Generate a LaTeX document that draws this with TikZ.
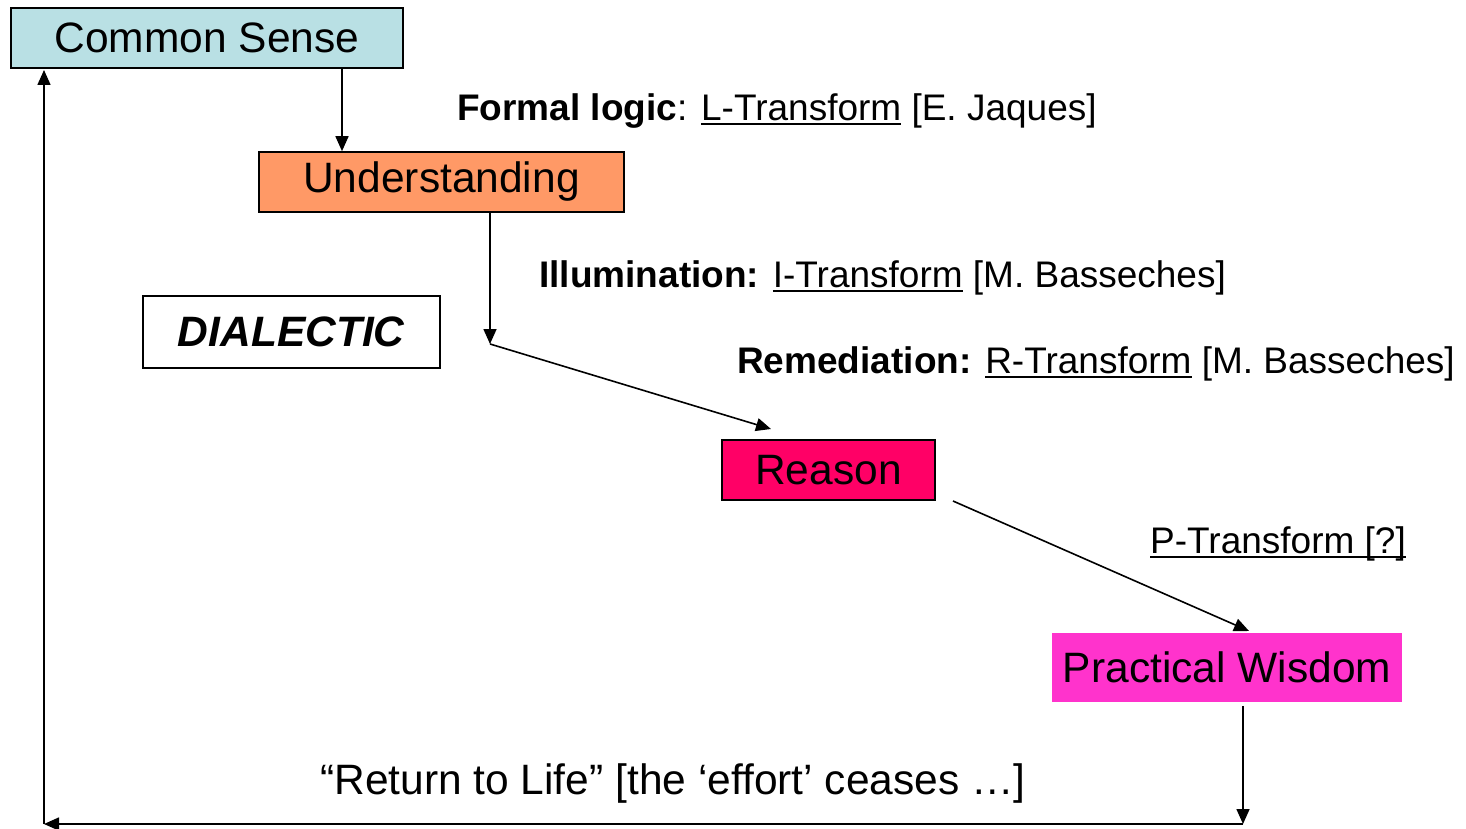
\documentclass[tikz,border=0pt]{standalone}
\usepackage{fontspec}
\setmainfont{Liberation Sans}
\usetikzlibrary{arrows.meta}

% underline with a rule that scales with the font size
\newcommand\ulx[1]{\setbox0\hbox{#1}\rlap{\rule[-0.13em]{\wd0}{0.065em}}\box0\relax}

\definecolor{csfill}{HTML}{B9E0E4}
\definecolor{unfill}{HTML}{FF9966}
\definecolor{rsfill}{HTML}{FF0066}
\definecolor{pwfill}{HTML}{FF33CC}

\tikzset{
  stage/.style={draw=black, line width=1.6pt, inner sep=0pt,
    font=\fontsize{42.5}{50}\selectfont},
  note/.style={anchor=west, inner sep=0pt,
    font=\fontsize{37}{44}\selectfont},
  flow/.style={line width=1.6pt, -{Triangle[length=15pt,width=13pt]}},
}

\begin{document}
\begin{tikzpicture}[x=1pt, y=-1pt]
  \useasboundingbox (0,0) rectangle (1466,829);

  % stages
  \node[stage, fill=csfill, minimum width=392pt, minimum height=60pt] (cs) at (207,38) {Common Sense};
  \node[stage, fill=unfill, minimum width=365pt, minimum height=60pt] (un) at (441.5,182) {Understanding};
  \node[stage, fill=white, minimum width=297pt, minimum height=72pt] (dia) at (291.5,332) {\textbf{\textit{DIALECTIC}}};
  \node[stage, fill=rsfill, minimum width=213pt, minimum height=60pt] (rs) at (828.5,470) {Reason};
  \node[stage, draw=none, fill=pwfill, minimum width=350pt, minimum height=69pt] (pw) at (1227,667.5) {Practical Wisdom};

  % transform labels
  \node[note] (lf) at (457,111) {\textbf{Formal logic}: \ulx{L-Transform} [E. Jaques]};
  \node[note] (li) at (539,278) {\textbf{Illumination:} \ulx{I-Transform} [M. Basseches]};
  \node[note] (lr) at (737,364) {\textbf{Remediation:} \ulx{R-Transform} [M. Basseches]};
  \node[note] (lp) at (1150,544) {\ulx{P-Transform [?]}};
  \node[note, font=\fontsize{42.5}{50}\selectfont] (ll) at (320,784) {“Return to Life” [the ‘effort’ ceases …]};

  % free ends of the connectors
  \coordinate (ubend) at (490,344);
  \coordinate (rtip) at (771,429);
  \coordinate (rstart) at (953,501);
  \coordinate (ptip) at (1249,631);
  \coordinate (br) at (1243,824);
  \coordinate (bl) at (44,824);
  \coordinate (ltop) at (44,70);

  % connectors
  \draw[flow] (cs.south -| 342,0) -- (un.north -| 342,0);
  \draw[flow] (un.south -| ubend) -- (ubend);
  \draw[flow] (ubend) -- (rtip);
  \draw[flow] (rstart) -- (ptip);
  \draw[flow] (pw.south -| br) ++(0,3) -- (br);
  \draw[flow] (br) -- (bl);
  \draw[flow] (bl) -- (ltop);
\end{tikzpicture}
\end{document}
